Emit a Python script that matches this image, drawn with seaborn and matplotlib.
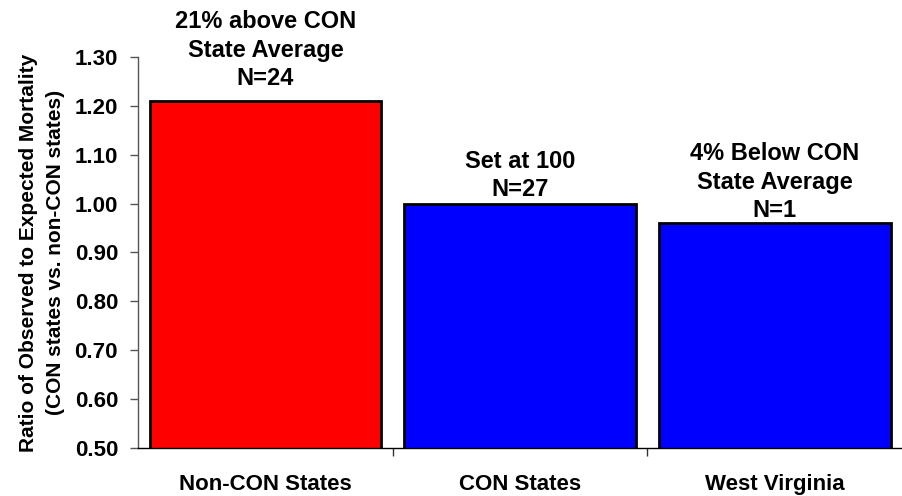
import numpy as np
import pandas as pd
import seaborn as sns
from matplotlib import pyplot as plt
from matplotlib.ticker import FixedLocator

groups = ['Non-CON States', 'CON States', 'West Virginia']
ratios = [1.21, 1.00, 0.96]
notes = ['21% above CON\nState Average\nN=24',
         'Set at 100\nN=27',
         '4% Below CON\nState Average\nN=1']
bar_colors = ['#ff0000', '#0000ff', '#0000ff']
yticks = np.arange(0.5, 1.31, 0.1)

sns.set_theme(style='white')
plt.rcParams['font.family'] = ['Liberation Sans', 'DejaVu Sans']
plt.rcParams['font.weight'] = 'bold'
plt.rcParams['text.color'] = 'black'
plt.rcParams['xtick.labelcolor'] = 'black'
plt.rcParams['ytick.labelcolor'] = 'black'
plt.rcParams['axes.labelcolor'] = 'black'

df = pd.DataFrame({'group': groups, 'ratio': ratios})

fig = plt.figure(figsize=(9.03, 4.96), dpi=100)
ax = fig.add_axes([0.153, 0.097, 0.846, 0.788])

sns.barplot(data=df, x='group', y='ratio', hue='group', palette=bar_colors,
            width=0.91, edgecolor='black', linewidth=2, saturation=1,
            legend=False, ax=ax)

ax.set_ylim(0.5, 1.3)
ax.set_xlim(-0.5, 2.5)
ax.set_yticks(yticks)
ax.set_yticklabels([f'{v:.2f}' for v in yticks], fontsize=16, fontweight='bold')
ax.tick_params(axis='y', direction='out', length=6, width=1, color='#555555', left=True, pad=8.5)
ax.tick_params(axis='x', which='major', length=0, pad=19, labelsize=16)
for lab in ax.get_xticklabels():
    lab.set_fontweight('bold')
ax.xaxis.set_minor_locator(FixedLocator([0.5, 1.5]))
ax.tick_params(axis='x', which='minor', direction='out', length=6, width=1, color='#333333', bottom=True)

ax.set_xlabel('')
ax.set_ylabel('Ratio of Observed to Expected Mortality\n(CON states vs. non-CON states)',
              fontsize=15, fontweight='bold', labelpad=7, linespacing=1.5)

for s in ['top', 'right']:
    ax.spines[s].set_visible(False)
ax.spines['left'].set_color('#555555')
ax.spines['left'].set_linewidth(1)
ax.spines['bottom'].set_color('black')
ax.spines['bottom'].set_linewidth(1)

# label gap above each bar top
gaps = [0.022, 0.005, 0.002]
for i, (v, t) in enumerate(zip(ratios, notes)):
    ax.text(i, v + gaps[i], t, ha='center', va='bottom', fontsize=17,
            fontweight='bold', linespacing=1.3, clip_on=False)

fig.savefig('out.png', dpi=100)
